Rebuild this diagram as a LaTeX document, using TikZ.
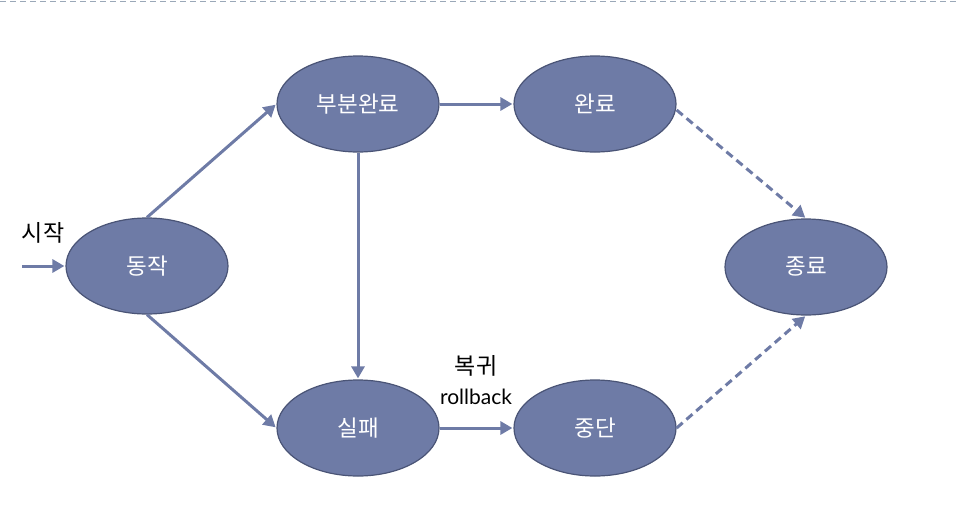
\documentclass[tikz,border=0pt]{standalone}
\usepackage{fontspec}
\setmainfont{Noto Sans CJK KR}
\newfontfamily\latinf{Lato}
\usetikzlibrary{arrows.meta,shapes.geometric}
\definecolor{nodefill}{HTML}{6E7BA6}
\definecolor{nodeline}{HTML}{4A5476}
\definecolor{arrowc}{HTML}{6E7BA6}
\definecolor{topline}{HTML}{9AA8B8}
\begin{document}
\begin{tikzpicture}[x=1pt,y=-1pt,
  state/.style={ellipse,draw=nodeline,line width=1.2pt,fill=nodefill,minimum width=162pt,minimum height=96pt,inner sep=0pt,text=white,font=\fontsize{22.5}{24}\selectfont},
  conn/.style={draw=arrowc,line width=3pt,-{Triangle[length=12pt,width=13pt]},shorten >=1pt},
  dconn/.style={conn,dash pattern=on 8pt off 5pt},
  lbl/.style={font=\fontsize{23}{25}\selectfont,inner sep=0pt}
]
\useasboundingbox (0,0) rectangle (957,517);
\draw[topline,line width=1pt,dash pattern=on 6pt off 4pt] (0,1) -- (957,1);
\node[state] (act) at (147,266) {동작};
\node[state] (part) at (358,104) {부분완료};
\node[state] (done) at (595,104) {완료};
\node[state] (end) at (806,267) {종료};
\node[state] (fail) at (358,428) {실패};
\node[state] (abort) at (595,428) {중단};
\coordinate (s) at (22,266);
\node[lbl] at (43,233) {시작};
\draw[conn] (s) -- (act.west);
\draw[conn] (act.north) -- (part.west);
\draw[conn] (act.south) -- (fail.west);
\draw[conn] (part.east) -- (done.west);
\draw[conn] (part.south) -- (fail.north);
\draw[conn] (fail.east) -- (abort.west);
\draw[dconn] (done.east) ++(0,6) -- (end.north);
\draw[dconn] (abort.east) -- (end.south);
\node[lbl] (rb1) at (476,366) {복귀};
\node[lbl,font=\latinf\fontsize{21}{23}\selectfont] (rb2) at (476,397) {rollback};
\end{tikzpicture}
\end{document}
